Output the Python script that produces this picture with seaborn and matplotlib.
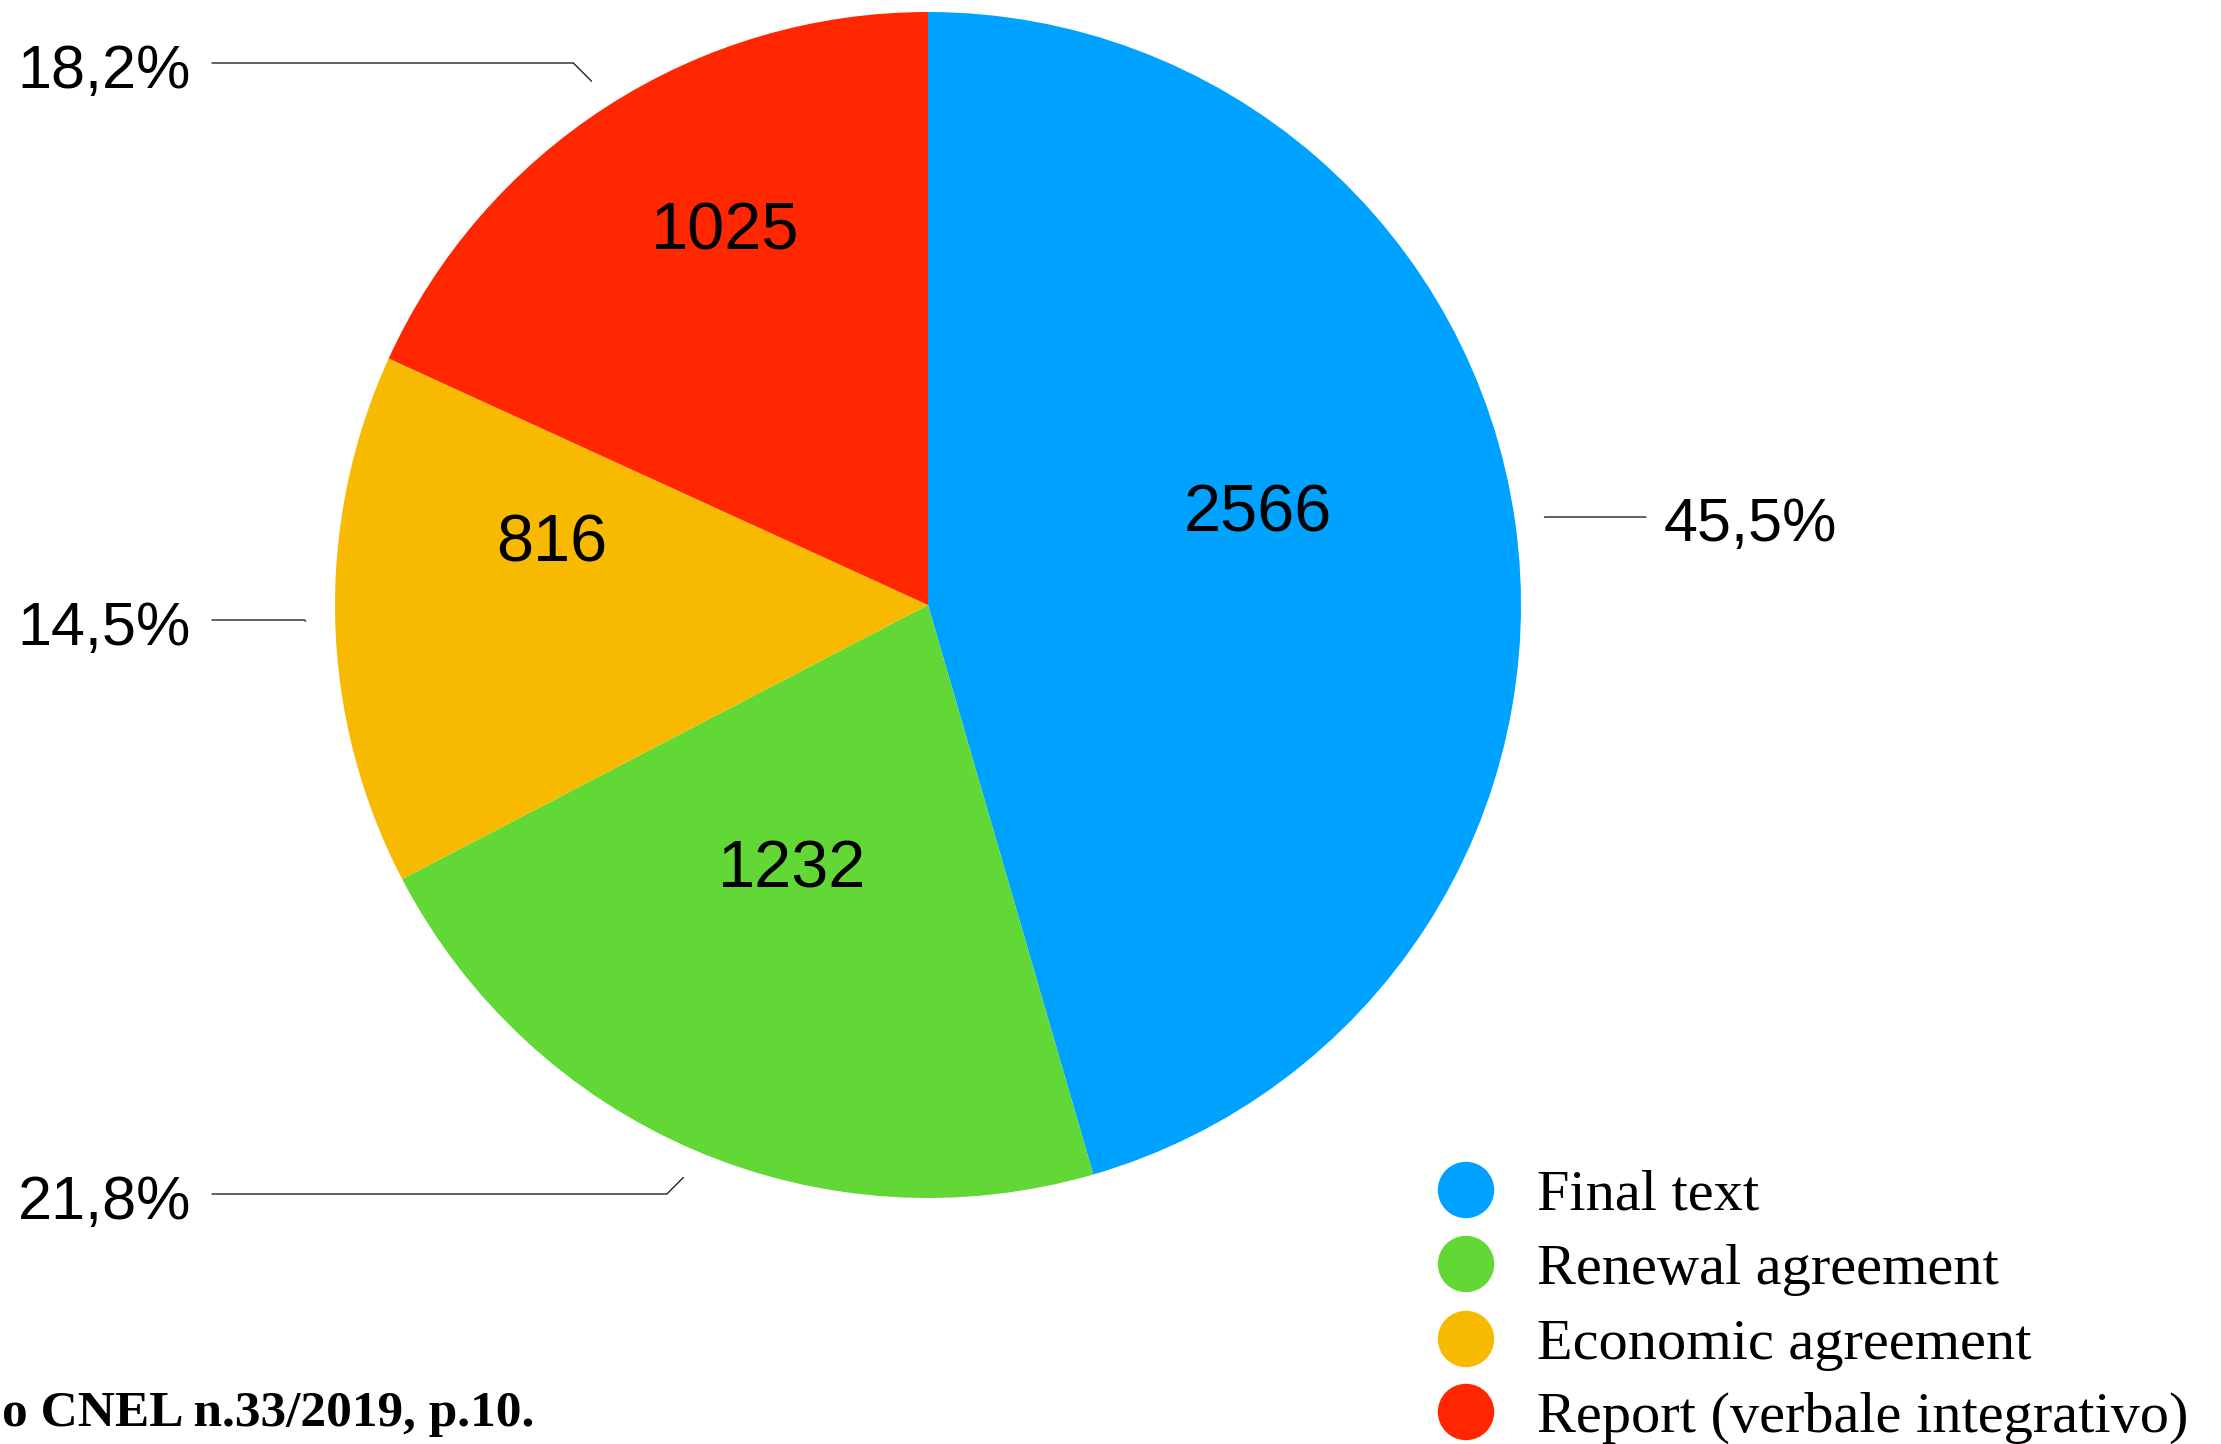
import numpy as np
import seaborn as sns
import matplotlib
import matplotlib.pyplot as plt

matplotlib.use("Agg")

# dati
categories = ["Final text", "Renewal agreement", "Economic agreement",
              "Report (verbale integrativo)"]
values = [2566, 1232, 816, 1025]
colors = ["#00A2FF", "#61D836", "#F8BA00", "#FF2600"]
source_text = "o CNEL n.33/2019, p.10."

W, H = 2221, 1444

sns.set_theme(style="white")
palette = sns.color_palette(colors)

fig = plt.figure(figsize=(W / 100, H / 100), dpi=100)
ax = fig.add_axes([0, 0, 1, 1])

# centro e raggio della torta (pixel)
cx, cy, r = 928, H - 605, 593
wedges, _ = ax.pie(values, colors=palette, startangle=90, counterclock=False,
                   center=(cx, cy), radius=r, wedgeprops=dict(linewidth=0))

ax.set_xlim(0, W)
ax.set_ylim(0, H)
ax.set_aspect("equal")
ax.axis("off")

# valori dentro le fette (posizioni del layout)
inner_pos = [(1258, 531), (792, 888), (552, 561), (725, 249)]
for v, (x, y) in zip(values, inner_pos):
    ax.text(x, H - y, str(v), ha="center", va="baseline", fontsize=48,
            family="Liberation Sans", color="black")

# etichette percentuali con linee guida
total = sum(values)
label_y = [517, 1194, 620, 63]  # livello y della linea orizzontale
for w, v, ly in zip(wedges, values, label_y):
    ang = np.deg2rad((w.theta1 + w.theta2) / 2)
    sx = cx + 1.05 * r * np.cos(ang)
    sy = cy + 1.05 * r * np.sin(ang)
    ey = H - ly
    pct = f"{100 * v / total:.1f}%".replace(".", ",")
    if np.cos(ang) >= 0:
        ex = sx + abs(ey - sy)
        ax.plot([sx, ex, 1646], [sy, ey, ey], color="#222222", lw=1.0)
        ax.text(1664, ey - 24, pct, ha="left", va="baseline", fontsize=44,
                family="Liberation Sans", color="black")
    else:
        ex = sx - abs(ey - sy)
        ax.plot([sx, ex, 212], [sy, ey, ey], color="#222222", lw=1.0)
        ax.text(191, ey - 25, pct, ha="right", va="baseline", fontsize=44,
                family="Liberation Sans", color="black")

# legenda
leg_y = [1190, 1264, 1339, 1412]
for c, name, y in zip(palette, categories, leg_y):
    ax.scatter([1466], [H - y], s=1650, color=c, edgecolor="none")
    ax.text(1537, H - y - 20, name, ha="left", va="baseline", fontsize=42,
            family="Liberation Serif", color="black")

# fonte
ax.text(2, H - 1426, source_text, ha="left", va="baseline", fontsize=37,
        family="Liberation Serif", fontweight="bold", color="black")

fig.savefig("out.png", dpi=100)
plt.close(fig)
